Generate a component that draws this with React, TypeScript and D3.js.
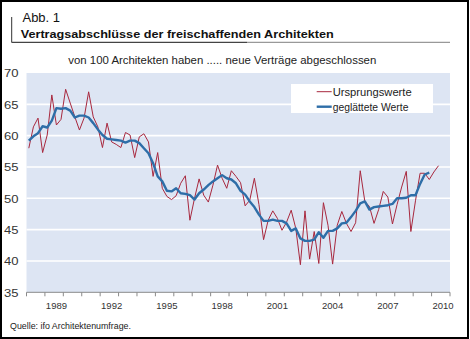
import React from 'react';
import * as d3 from 'd3';

const W = 470;
const H = 339;
const firstYear = 1988;
const lastYear = 2010;
const yearLabels = [1989, 1992, 1995, 1998, 2001, 2004, 2007, 2010];
const yTicks = [35, 40, 45, 50, 55, 60, 65, 70];
const gridValues = [40, 45, 50, 55, 60, 65];

// Quarterly values, starting 1988 Q1
const original = [
  58.0, 61.4, 62.8, 57.3, 60.1, 66.5, 61.7, 62.6, 67.4, 65.2,
  63.0, 60.9, 62.8, 67.0, 63.0, 61.4, 58.1, 62.0, 59.0, 58.6,
  58.1, 60.5, 60.1, 56.5, 59.8, 60.3, 59.0, 53.5, 57.3, 51.6,
  50.3, 49.8, 50.4, 52.4, 53.6, 46.5, 50.0, 53.1, 50.5, 49.4,
  52.1, 55.3, 53.2, 51.6, 54.4, 53.5, 52.5, 48.8, 49.7, 53.2,
  49.0, 43.4, 46.5, 48.0, 46.8, 44.9, 46.2, 48.1, 45.2, 39.4,
  48.0, 40.3, 44.7, 39.6, 49.3, 45.7, 39.5, 45.7, 47.9, 46.0,
  44.7, 46.1, 54.4, 49.5, 48.7, 46.0, 48.2, 51.1, 50.2, 45.9,
  49.0, 51.8, 54.3, 44.7, 49.6, 54.0, 54.0, 53.0, 54.2, 55.2,
];

const smoothed = [
  59.2, 59.9, 60.4, 61.5, 61.3, 62.4, 64.4, 64.3, 64.4, 64.0,
  62.9, 63.2, 63.2, 62.9, 62.0, 61.0, 60.1, 59.5, 59.4, 59.3,
  59.2, 58.9, 59.2, 59.2, 58.8, 58.0, 57.2, 55.6, 53.5, 52.7,
  51.2, 51.1, 51.6, 50.8, 50.7, 50.5, 49.8, 50.8, 51.4, 52.1,
  52.7, 53.2, 53.7, 53.2, 53.0, 52.4, 51.2, 50.6, 49.5, 48.6,
  47.4, 46.4, 46.4, 46.6, 46.4, 46.4, 46.0, 44.8, 45.2, 43.6,
  43.2, 43.2, 43.4, 44.6, 43.7, 44.8, 44.8, 45.2, 46.0, 46.1,
  47.0, 48.0, 49.2, 49.5, 48.2, 48.6, 48.7, 48.8, 48.9, 49.1,
  50.0, 50.0, 50.1, 50.5, 50.5, 52.3, 53.8, 54.1,
];

const FONT = "'Liberation Sans', Arial, sans-serif";

export default function App() {
  const nQ = (lastYear - firstYear + 1) * 4;
  const x = d3.scaleLinear().domain([0, nQ]).range([26.5, 450]);
  const y = d3.scaleLinear().domain([35, 70]).range([292.3, 73]);
  const line = d3
    .line<number>()
    .x((_, i) => x(i + 0.5))
    .y((d) => y(d));

  const yearTicks = d3.range(0, lastYear - firstYear + 2).map((k) => k * 4);

  return (
    <svg
      width={W}
      height={H}
      style={{ position: 'absolute', left: 0, top: 0, background: '#fff' }}
      fontFamily={FONT}
    >
      <rect x={0} y={0} width={W} height={H} fill="#fff" />
      <rect x={1} y={1} width={467} height={337} fill="none" stroke="#000" strokeWidth={2} />

      {/* header */}
      <line x1={11.7} y1={17} x2={11.7} y2={42.5} stroke="#333" strokeWidth={1} />
      <line x1={11.7} y1={42.3} x2={247} y2={42.3} stroke="#444" strokeWidth={1.3} />
      <line x1={247} y1={42.3} x2={450} y2={42.3} stroke="#999" strokeWidth={1.3} />
      <text x={22.5} y={21.7} fontSize={12.5} fill="#111" textLength={37.5} lengthAdjust="spacingAndGlyphs">
        Abb. 1
      </text>
      <text
        x={20.7}
        y={37.7}
        fontSize={11.5}
        fontWeight="bold"
        fill="#111"
        textLength={313}
        lengthAdjust="spacingAndGlyphs"
      >
        Vertragsabschlüsse der freischaffenden Architekten
      </text>
      <text
        x={68.3}
        y={64.3}
        fontSize={10.8}
        fill="#222"
        textLength={308}
        lengthAdjust="spacingAndGlyphs"
      >
        von 100 Architekten haben ..... neue Verträge abgeschlossen
      </text>

      {/* plot background */}
      <rect
        x={x(0)}
        y={y(70)}
        width={x(nQ) - x(0)}
        height={y(35) - y(70)}
        fill="#dde5f3"
      />
      {gridValues.map((v) => (
        <line key={v} x1={x(0)} x2={x(nQ)} y1={y(v)} y2={y(v)} stroke="#fff" strokeWidth={1.6} />
      ))}

      {/* y labels */}
      {yTicks.map((v) => (
        <text
          key={v}
          x={18.5}
          y={y(v) + 4.2}
          fontSize={11.5}
          fill="#333"
          textAnchor="end"
          textLength={14.5}
          lengthAdjust="spacingAndGlyphs"
        >
          {v}
        </text>
      ))}

      {/* x axis */}
      <line x1={x(0)} x2={x(nQ)} y1={y(35)} y2={y(35)} stroke="#8a8a8a" strokeWidth={1} />
      {yearTicks.map((q) => (
        <line key={q} x1={x(q)} x2={x(q)} y1={y(35)} y2={y(35) + 4} stroke="#8a8a8a" strokeWidth={1} />
      ))}
      {yearLabels.map((yr) => (
        <text
          key={yr}
          x={x((yr - firstYear) * 4 + 2.5)}
          y={309.3}
          fontSize={9.5}
          fill="#333"
          textAnchor="middle"
        >
          {yr}
        </text>
      ))}

      {/* series */}
      <path d={line(original) || ''} fill="none" stroke="#a8283e" strokeWidth={1} strokeLinejoin="miter" />
      <path d={line(smoothed) || ''} fill="none" stroke="#2e6ea8" strokeWidth={2.4} strokeLinejoin="round" />

      {/* legend */}
      <rect x={291} y={84} width={142} height={29} fill="#fff" />
      <line x1={316.7} x2={331.7} y1={91.7} y2={91.7} stroke="#a8283e" strokeWidth={1} />
      <line x1={316.7} x2={331.7} y1={106.7} y2={106.7} stroke="#2e6ea8" strokeWidth={2.4} />
      <text x={332.7} y={95.5} fontSize={10.5} fill="#222" textLength={79} lengthAdjust="spacingAndGlyphs">
        Ursprungswerte
      </text>
      <text x={332.7} y={110.5} fontSize={10.5} fill="#222" textLength={75.7} lengthAdjust="spacingAndGlyphs">
        geglättete Werte
      </text>

      {/* source */}
      <text x={10} y={329.3} fontSize={9} fill="#222" textLength={121} lengthAdjust="spacingAndGlyphs">
        Quelle: ifo Architektenumfrage.
      </text>
    </svg>
  );
}
